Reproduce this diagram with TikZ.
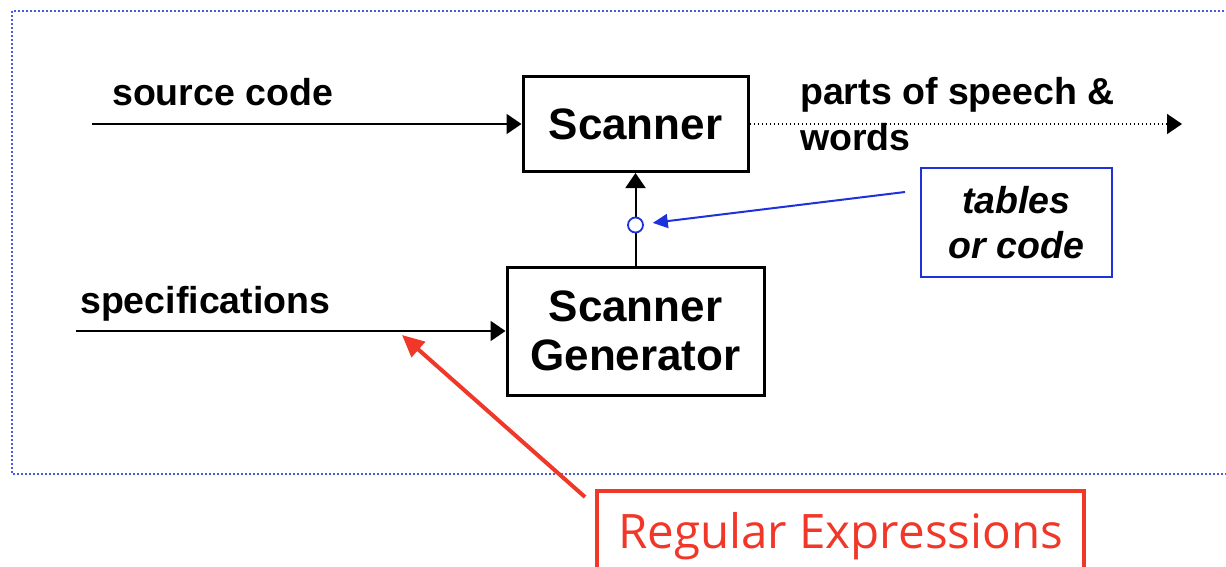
\documentclass[tikz,border=0pt]{standalone}
\usepackage{fontspec}
\setmainfont{Liberation Sans}
\newfontfamily\handfont{Open Sans}
\usetikzlibrary{arrows.meta}

\definecolor{frameblue}{RGB}{70,90,235}
\definecolor{noteblue}{RGB}{30,50,220}
\definecolor{notered}{RGB}{240,55,40}

\tikzset{
  box/.style={draw, line width=3pt, inner sep=0pt, align=center,
              font=\bfseries\fontsize{44}{49}\selectfont},
  label/.style={anchor=base west, inner sep=0pt,
                font=\bfseries\fontsize{37.5}{46}\selectfont},
  flow/.style={line width=2pt, -{Triangle[length=15pt,width=20pt]}},
  dotflow/.style={line width=1.6pt, dash pattern=on 1.6pt off 2.4pt,
                  -{Triangle[length=15pt,width=20pt]}},
  bluenote/.style={draw=noteblue, line width=2pt, inner sep=0pt, align=center,
                   font=\bfseries\itshape\fontsize{37.5}{45}\selectfont},
  bluearrow/.style={draw=noteblue, line width=2pt,
                    -{Triangle[length=15pt,width=14pt]}},
  redarrow/.style={draw=notered, line width=4pt,
                   -{Triangle[length=22pt,width=20pt]}},
}

\begin{document}
\begin{tikzpicture}[x=1pt,y=-1pt]
  \useasboundingbox (0,0) rectangle (1226,566);
  \clip (0,0) rectangle (1226,566);

  % dotted frame around the diagram
  \draw[frameblue, line width=2pt, dash pattern=on 2pt off 2pt]
    (12,11) rectangle (1245,474);

  % the two processing boxes
  \node[box, minimum width=225pt, minimum height=95pt] (scanner) at (635.5,124) {Scanner};
  \node[box, minimum width=257pt, minimum height=128pt] (gen) at (635.5,331) {Scanner\\Generator};

  % input / output labels
  \node[label] (src) at (112,105) {source code};
  \node[label] (spec) at (80,313) {specifications};
  \node[label] (out) at (800,104) {parts of speech \&};
  \node[label] (out2) at (800,150) {words};

  % connectors
  \coordinate (srcin) at (92,124);
  \coordinate (specin) at (76,331);
  \coordinate (outend) at (1182,124);
  \draw[flow] (srcin) -- (scanner.west);
  \draw[flow] (specin) -- (gen.west);
  \draw[flow] (gen.north) -- (scanner.south);
  \draw[dotflow] (scanner.east) -- (outend);

  % generated tables, marked on the generator output
  \node[circle, draw=noteblue, fill=white, line width=1.8pt, minimum size=15pt, inner sep=0pt]
    (tap) at (635.5,225) {};
  \node[bluenote, minimum width=191pt, minimum height=109pt] (tables) at (1016.5,222.5)
    {tables\\or code};
  \coordinate (tablestail) at (905,192);
  \draw[bluearrow, shorten >=9pt] (tablestail) -- (tap);

  % the specification language
  \node[draw=notered, line width=4pt, inner sep=0pt, anchor=base,
        minimum width=487pt, text height=57pt, text depth=53pt,
        text=notered, font=\handfont\fontsize{47.5}{55}\selectfont]
    (regex) at (840.5,548) {Regular Expressions};
  \coordinate (regextail) at (585,497);
  \coordinate (spectip) at (402,335);
  \draw[redarrow] (regextail) -- (spectip);
\end{tikzpicture}
\end{document}
